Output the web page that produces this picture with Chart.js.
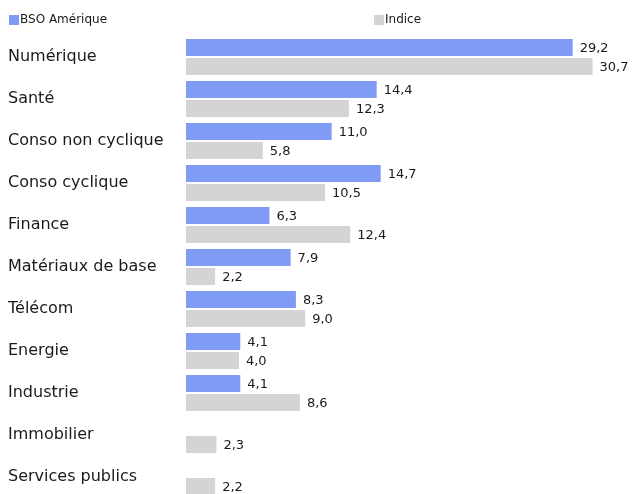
<!DOCTYPE html>
<html>
<head>
<meta charset="utf-8">
<script src="https://cdn.jsdelivr.net/npm/chart.js@4/dist/chart.umd.min.js"></script>
<style>
html,body{margin:0;padding:0;background:#fff;overflow:hidden;}
canvas{display:block;}
</style>
</head>
<body>
<canvas id="c" width="633" height="500"></canvas>
<script>
const categories = ["Numérique","Santé","Conso non cyclique","Conso cyclique","Finance","Matériaux de base","Télécom","Energie","Industrie","Immobilier","Services publics"];
const bsoAmerique = [29.2,14.4,11.0,14.7,6.3,7.9,8.3,4.1,4.1,null,null];
const indice = [30.7,12.3,5.8,10.5,12.4,2.2,9.0,4.0,8.6,2.3,2.2];
const seriesNames = ["BSO Amérique","Indice"];
const colors = ["#809bf5","#d4d4d4"];

const fmt = v => v.toFixed(1).replace('.', ',');

const valueLabels = {
  id:'valueLabels',
  afterDatasetsDraw(chart){
    const ctx = chart.ctx;
    ctx.save();
    ctx.font = '13px "DejaVu Sans"';
    ctx.fillStyle = '#1a1a1a';
    ctx.textAlign = 'left';
    ctx.textBaseline = 'middle';
    chart.data.datasets.forEach((ds, i) => {
      const meta = chart.getDatasetMeta(i);
      meta.data.forEach((el, j) => {
        const v = ds.data[j];
        if (v === null || v === undefined) return;
        ctx.fillText(fmt(v), el.x + 7, el.y + 1);
      });
    });
    ctx.restore();
  }
};

const customLegend = {
  id:'customLegend',
  afterDraw(chart){
    const ctx = chart.ctx;
    ctx.save();
    ctx.font = '12px "DejaVu Sans"';
    ctx.textBaseline = 'middle';
    ctx.textAlign = 'left';
    const xs = [9, 374];
    const y = 20;
    chart.data.datasets.forEach((ds, i) => {
      ctx.fillStyle = ds.backgroundColor;
      ctx.fillRect(xs[i], y - 5, 10, 10);
      ctx.fillStyle = '#1a1a1a';
      ctx.fillText(ds.label, xs[i] + 11, y);
    });
    ctx.restore();
  }
};

new Chart(document.getElementById('c'), {
  type:'bar',
  data:{
    labels:categories,
    datasets:[
      {label:seriesNames[0], data:bsoAmerique, backgroundColor:colors[0], categoryPercentage:0.905, barPercentage:0.895},
      {label:seriesNames[1], data:indice, backgroundColor:colors[1], categoryPercentage:0.905, barPercentage:0.895}
    ]
  },
  options:{
    indexAxis:'y',
    responsive:false,
    animation:false,
    layout:{padding:{top:36,left:8,right:10,bottom:2}},
    plugins:{legend:{display:false},tooltip:{enabled:false}},
    scales:{
      x:{display:false,min:0,max:33,grid:{display:false}},
      y:{
        grid:{display:false},
        border:{display:false},
        ticks:{crossAlign:'far',color:'#1a1a1a',font:{family:'"DejaVu Sans"',size:16},padding:0},
        afterFit(scale){ scale.width = 178; scale.paddingTop = 0; scale.paddingBottom = 0; }
      }
    }
  },
  plugins:[valueLabels, customLegend]
});
</script>
</body>
</html>
